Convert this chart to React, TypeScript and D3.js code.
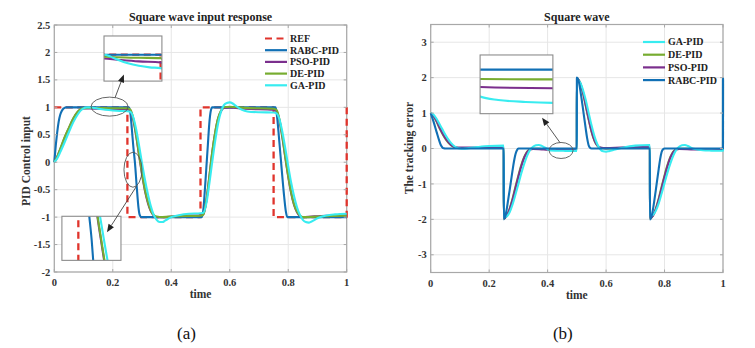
import * as d3 from "d3";

type Pt = [number, number];

// tick values
const timeTicks = [0, 0.2, 0.4, 0.6, 0.8, 1];
const inputTicks = [-2, -1.5, -1, -0.5, 0, 0.5, 1, 1.5, 2, 2.5];
const errorTicks = [-3, -2, -1, 0, 1, 2, 3];

// (a) square wave input response
const refWave: Pt[] = [[0, 1], [0.25, 1], [0.25, -1], [0.5, -1], [0.5, 1], [0.75, 1], [0.75, -1], [1, -1], [1, 1]];

const rabcInput: Pt[] = [[0, 0], [0.005, 0.3], [0.01, 0.55], [0.015, 0.74], [0.02, 0.86], [0.025, 0.93], [0.03, 0.97], [0.035, 0.99], [0.04, 1], [0.255, 1], [0.26, 0.9], [0.265, 0.62], [0.27, 0.3], [0.276, -0.02], [0.282, -0.45], [0.288, -0.83], [0.292, -0.96], [0.297, -1], [0.505, -1], [0.51, -0.85], [0.515, -0.5], [0.52, -0.1], [0.525, 0.3], [0.53, 0.7], [0.535, 0.93], [0.54, 1], [0.757, 1], [0.762, 0.82], [0.77, 0.35], [0.778, -0.15], [0.786, -0.62], [0.792, -0.9], [0.797, -1], [1, -1]];

const psoInput: Pt[] = [[0, 0], [0.01, 0.1], [0.02, 0.23], [0.035, 0.44], [0.05, 0.62], [0.065, 0.79], [0.08, 0.915], [0.09, 0.96], [0.1, 0.978], [0.12, 0.98], [0.15, 0.974], [0.2, 0.965], [0.25, 0.96], [0.26, 0.94], [0.27, 0.78], [0.28, 0.48], [0.29, 0.12], [0.3, -0.22], [0.31, -0.52], [0.32, -0.74], [0.33, -0.89], [0.34, -0.97], [0.35, -1.0], [0.37, -1.0], [0.42, -0.98], [0.5, -0.965], [0.51, -0.945], [0.52, -0.7], [0.53, -0.28], [0.54, 0.17], [0.55, 0.53], [0.56, 0.79], [0.57, 0.93], [0.58, 0.99], [0.6, 1.0], [0.65, 0.975], [0.75, 0.955], [0.76, 0.935], [0.77, 0.76], [0.78, 0.45], [0.79, 0.09], [0.8, -0.26], [0.81, -0.56], [0.82, -0.78], [0.83, -0.91], [0.84, -0.98], [0.85, -1.0], [0.88, -0.99], [0.93, -0.975], [1, -0.965]];

const deInput: Pt[] = [[0, 0], [0.01, 0.1], [0.02, 0.24], [0.035, 0.45], [0.05, 0.63], [0.065, 0.8], [0.08, 0.92], [0.09, 0.965], [0.1, 0.985], [0.12, 0.99], [0.15, 0.987], [0.2, 0.984], [0.25, 0.982], [0.26, 0.96], [0.27, 0.8], [0.28, 0.5], [0.29, 0.14], [0.3, -0.2], [0.31, -0.5], [0.32, -0.72], [0.33, -0.88], [0.34, -0.96], [0.35, -0.99], [0.37, -1.0], [0.42, -0.985], [0.5, -0.975], [0.51, -0.95], [0.52, -0.7], [0.53, -0.27], [0.54, 0.18], [0.55, 0.54], [0.56, 0.8], [0.57, 0.94], [0.58, 1.0], [0.6, 1.01], [0.65, 0.99], [0.75, 0.975], [0.76, 0.95], [0.77, 0.78], [0.78, 0.47], [0.79, 0.1], [0.8, -0.25], [0.81, -0.55], [0.82, -0.77], [0.83, -0.9], [0.84, -0.97], [0.85, -1.0], [0.87, -1.0], [0.92, -0.985], [1, -0.975]];

const gaInput: Pt[] = [[0, 0], [0.01, 0.07], [0.02, 0.18], [0.035, 0.36], [0.05, 0.55], [0.065, 0.73], [0.08, 0.87], [0.09, 0.94], [0.1, 0.98], [0.11, 0.997], [0.12, 1.0], [0.135, 0.99], [0.15, 0.975], [0.175, 0.955], [0.2, 0.942], [0.225, 0.934], [0.25, 0.93], [0.26, 0.92], [0.27, 0.82], [0.28, 0.6], [0.29, 0.3], [0.3, -0.02], [0.31, -0.32], [0.32, -0.58], [0.33, -0.8], [0.34, -0.96], [0.35, -1.05], [0.36, -1.09], [0.37, -1.09], [0.38, -1.06], [0.4, -1.0], [0.43, -0.96], [0.46, -0.94], [0.5, -0.93], [0.51, -0.92], [0.52, -0.75], [0.53, -0.4], [0.54, 0.0], [0.55, 0.38], [0.56, 0.7], [0.57, 0.92], [0.58, 1.04], [0.59, 1.08], [0.6, 1.09], [0.61, 1.07], [0.62, 1.03], [0.64, 0.96], [0.66, 0.925], [0.7, 0.91], [0.75, 0.905], [0.76, 0.89], [0.77, 0.78], [0.78, 0.55], [0.79, 0.25], [0.8, -0.07], [0.81, -0.37], [0.82, -0.62], [0.83, -0.82], [0.84, -0.96], [0.85, -1.05], [0.86, -1.09], [0.87, -1.1], [0.88, -1.08], [0.9, -1.02], [0.93, -0.97], [0.96, -0.95], [1, -0.94]];

// (b) tracking error
const rabcError: Pt[] = [[0, 1], [0.01, 0.75], [0.02, 0.47], [0.03, 0.2], [0.035, 0.09], [0.04, 0.03], [0.045, 0.005], [0.05, 0], [0.2499, 0], [0.2501, -2], [0.255, -1.92], [0.26, -1.72], [0.265, -1.45], [0.27, -1.18], [0.275, -0.9], [0.28, -0.62], [0.285, -0.36], [0.29, -0.16], [0.295, -0.05], [0.3, 0], [0.4999, 0], [0.5001, 2], [0.505, 1.94], [0.51, 1.74], [0.515, 1.47], [0.52, 1.18], [0.525, 0.88], [0.53, 0.58], [0.535, 0.3], [0.54, 0.1], [0.545, 0.02], [0.55, 0], [0.7499, 0], [0.7501, -2], [0.755, -1.93], [0.76, -1.74], [0.765, -1.47], [0.77, -1.18], [0.775, -0.88], [0.78, -0.58], [0.785, -0.3], [0.79, -0.1], [0.795, -0.02], [0.8, 0], [0.9999, 0], [1, 2]];

const psoError: Pt[] = [[0, 1], [0.01, 0.92], [0.02, 0.78], [0.03, 0.6], [0.04, 0.44], [0.05, 0.3], [0.06, 0.19], [0.07, 0.1], [0.08, 0.05], [0.09, 0.03], [0.1, 0.025], [0.15, 0.03], [0.2, 0.04], [0.2499, 0.045], [0.2501, -1.97], [0.26, -1.9], [0.27, -1.72], [0.28, -1.45], [0.29, -1.12], [0.3, -0.8], [0.31, -0.5], [0.32, -0.26], [0.33, -0.1], [0.34, -0.03], [0.35, -0.012], [0.38, -0.025], [0.4, -0.035], [0.4999, -0.038], [0.5001, 1.97], [0.51, 1.88], [0.52, 1.62], [0.53, 1.25], [0.54, 0.86], [0.55, 0.5], [0.56, 0.24], [0.57, 0.09], [0.58, 0.03], [0.6, 0.01], [0.65, 0.03], [0.7, 0.045], [0.7499, 0.05], [0.7501, -1.96], [0.76, -1.9], [0.77, -1.72], [0.78, -1.45], [0.79, -1.12], [0.8, -0.8], [0.81, -0.5], [0.82, -0.26], [0.83, -0.1], [0.84, -0.03], [0.85, -0.012], [0.9, -0.03], [0.9999, -0.038], [1, 1.96]];

const deError: Pt[] = [[0, 1], [0.01, 0.91], [0.02, 0.76], [0.03, 0.58], [0.04, 0.42], [0.05, 0.28], [0.06, 0.17], [0.07, 0.09], [0.08, 0.04], [0.09, 0.02], [0.1, 0.015], [0.15, 0.015], [0.2, 0.02], [0.2499, 0.02], [0.2501, -1.98], [0.26, -1.9], [0.27, -1.7], [0.28, -1.42], [0.29, -1.08], [0.3, -0.76], [0.31, -0.47], [0.32, -0.24], [0.33, -0.09], [0.34, -0.02], [0.35, -0.005], [0.38, -0.015], [0.4, -0.019], [0.4999, -0.02], [0.5001, 1.98], [0.51, 1.87], [0.52, 1.6], [0.53, 1.22], [0.54, 0.83], [0.55, 0.48], [0.56, 0.22], [0.57, 0.08], [0.58, 0.02], [0.6, 0.0], [0.65, 0.015], [0.7499, 0.025], [0.7501, -1.98], [0.76, -1.9], [0.77, -1.7], [0.78, -1.42], [0.79, -1.08], [0.8, -0.76], [0.81, -0.47], [0.82, -0.24], [0.83, -0.09], [0.84, -0.02], [0.85, -0.005], [0.9, -0.015], [0.9999, -0.02], [1, 1.98]];

const gaError: Pt[] = [[0, 1], [0.01, 0.95], [0.02, 0.84], [0.03, 0.69], [0.04, 0.54], [0.05, 0.39], [0.06, 0.26], [0.07, 0.15], [0.08, 0.07], [0.09, 0.02], [0.1, 0.0], [0.11, -0.005], [0.13, 0.01], [0.16, 0.04], [0.2, 0.07], [0.2499, 0.08], [0.2501, -1.94], [0.26, -1.92], [0.27, -1.8], [0.28, -1.58], [0.29, -1.3], [0.3, -1.0], [0.31, -0.7], [0.32, -0.43], [0.33, -0.2], [0.34, -0.04], [0.35, 0.05], [0.36, 0.09], [0.37, 0.1], [0.38, 0.075], [0.39, 0.03], [0.4, -0.02], [0.41, -0.055], [0.43, -0.062], [0.46, -0.066], [0.4999, -0.068], [0.5001, 1.93], [0.51, 1.88], [0.52, 1.68], [0.53, 1.38], [0.54, 1.02], [0.55, 0.66], [0.56, 0.35], [0.57, 0.12], [0.58, -0.02], [0.59, -0.08], [0.6, -0.09], [0.61, -0.075], [0.63, -0.03], [0.66, 0.03], [0.7, 0.08], [0.7499, 0.1], [0.7501, -1.9], [0.76, -1.88], [0.77, -1.76], [0.78, -1.55], [0.79, -1.27], [0.8, -0.97], [0.81, -0.68], [0.82, -0.42], [0.83, -0.2], [0.84, -0.04], [0.85, 0.05], [0.86, 0.09], [0.87, 0.1], [0.88, 0.07], [0.9, -0.01], [0.93, -0.05], [0.96, -0.06], [0.9999, -0.065], [1, 1.93]];

const FONT = "'Liberation Serif','Times New Roman',serif";
const GRID = "#e6e6e6";
const BOX = "#a8a8a8";
const col = { ref: "#e0342c", rabc: "#1170b5", pso: "#7b2f8d", de: "#77ac30", ga: "#38ecf0" };

type Series = { name: string; color: string; data: Pt[]; dash?: string; linear?: boolean };
type Scale = d3.ScaleLinear<number, number>;

const leftSeries: Series[] = [
  { name: "REF", color: col.ref, data: refWave, dash: "7 4.5", linear: true },
  { name: "RABC-PID", color: col.rabc, data: rabcInput },
  { name: "PSO-PID", color: col.pso, data: psoInput },
  { name: "DE-PID", color: col.de, data: deInput },
  { name: "GA-PID", color: col.ga, data: gaInput },
];

const rightSeries: Series[] = [
  { name: "GA-PID", color: col.ga, data: gaError },
  { name: "DE-PID", color: col.de, data: deError },
  { name: "PSO-PID", color: col.pso, data: psoError },
  { name: "RABC-PID", color: col.rabc, data: rabcError },
];
// draw order for (b): RABC on top
const rightDraw = [rightSeries[1], rightSeries[2], rightSeries[0], rightSeries[3]];

function path(s: Series, x: Scale, y: Scale) {
  const gen = d3
    .line<Pt>()
    .x((d) => x(d[0]))
    .y((d) => y(d[1]))
    .curve(s.linear ? d3.curveLinear : d3.curveMonotoneX);
  return gen(s.data) || "";
}

function Lines({ series, x, y, clip }: { series: Series[]; x: Scale; y: Scale; clip?: string }) {
  return (
    <g clipPath={clip ? `url(#${clip})` : undefined}>
      {series.map((s) => (
        <path key={s.name} d={path(s, x, y)} fill="none" stroke={s.color} strokeWidth={s.dash ? 2.3 : 2.1} strokeDasharray={s.dash} strokeLinejoin="round" />
      ))}
    </g>
  );
}

function Inset({ id, x, y, box, zx, zy, series }: { id: string; x: Scale; y: Scale; box: number[]; zx: number[]; zy: number[]; series: Series[] }) {
  const [t0, t1, v0, v1] = box;
  const rx0 = x(t0), rx1 = x(t1), ry0 = y(v1), ry1 = y(v0);
  const ix = d3.scaleLinear().domain(zx).range([rx0, rx1]);
  const iy = d3.scaleLinear().domain(zy).range([ry1, ry0]);
  return (
    <g>
      <clipPath id={id}>
        <rect x={rx0} y={ry0} width={rx1 - rx0} height={ry1 - ry0} />
      </clipPath>
      <rect x={rx0} y={ry0} width={rx1 - rx0} height={ry1 - ry0} fill="#fff" />
      <Lines series={series} x={ix} y={iy} clip={id} />
      <rect x={rx0} y={ry0} width={rx1 - rx0} height={ry1 - ry0} fill="none" stroke="#8c8c8c" strokeWidth={1.1} />
    </g>
  );
}

function Callout({ x, y, c, rx, ry, from, to }: { x: Scale; y: Scale; c: Pt; rx: number; ry: number; from: Pt; to: Pt }) {
  const x1 = x(from[0]), y1 = y(from[1]), x2 = x(to[0]), y2 = y(to[1]);
  const a = Math.atan2(y2 - y1, x2 - x1);
  const L = 8, W = 3.2;
  const bx = x2 - L * Math.cos(a), by = y2 - L * Math.sin(a);
  const head = `${x2},${y2} ${bx + W * Math.sin(a)},${by - W * Math.cos(a)} ${bx - W * Math.sin(a)},${by + W * Math.cos(a)}`;
  return (
    <g>
      <ellipse cx={x(c[0])} cy={y(c[1])} rx={rx} ry={ry} fill="none" stroke="#555" strokeWidth={0.9} />
      <line x1={x1} y1={y1} x2={bx} y2={by} stroke="#444" strokeWidth={0.9} />
      <polygon points={head} fill="#222" />
    </g>
  );
}

function Frame({ x, y, yTicks, title, ylabel, tag, children, legend, legendPos, label }: any) {
  const [x0, x1] = x.range();
  const [yb, yt] = y.range();
  const fmt = (v: number) => String(v);
  return (
    <g fontFamily={FONT}>
      {timeTicks.map((t) => (
        <line key={"gx" + t} x1={x(t)} x2={x(t)} y1={yt} y2={yb} stroke={GRID} />
      ))}
      {yTicks.map((v: number) => (
        <line key={"gy" + v} x1={x0} x2={x1} y1={y(v)} y2={y(v)} stroke={GRID} />
      ))}
      <rect x={x0} y={yt} width={x1 - x0} height={yb - yt} fill="none" stroke={BOX} strokeWidth={1.2} />
      {children}
      {timeTicks.map((t) => (
        <g key={"tx" + t}>
          <line x1={x(t)} x2={x(t)} y1={yb} y2={yb - 3} stroke={BOX} />
          <line x1={x(t)} x2={x(t)} y1={yt} y2={yt + 3} stroke={BOX} />
          <text x={x(t)} y={yb + 14} textAnchor="middle" fontSize={10.5} fontWeight="bold" fill="#333">{fmt(t)}</text>
        </g>
      ))}
      {yTicks.map((v: number) => (
        <g key={"ty" + v}>
          <line x1={x0} x2={x0 + 3} y1={y(v)} y2={y(v)} stroke={BOX} />
          <line x1={x1} x2={x1 - 3} y1={y(v)} y2={y(v)} stroke={BOX} />
          <text x={x0 - 4} y={y(v) + 3.6} textAnchor="end" fontSize={10.5} fontWeight="bold" fill="#333">{fmt(v)}</text>
        </g>
      ))}
      <text x={(x0 + x1) / 2} y={yt - 4} textAnchor="middle" fontSize={12} fontWeight="bold" fill="#222">{title}</text>
      <text x={(x0 + x1) / 2} y={yb + 26} textAnchor="middle" fontSize={11.5} fontWeight="bold" fill="#333">time</text>
      <text transform={`translate(${label[0]},${label[1]}) rotate(-90)`} textAnchor="middle" fontSize={11.5} fontWeight="bold" fill="#333">{ylabel}</text>
      <text x={(x0 + x1) / 2 - 14} y={339} textAnchor="middle" fontSize={17} fill="#111">{tag}</text>
      <g transform={`translate(${legendPos[0]},${legendPos[1]})`}>
        {legend.map((s: Series, i: number) => (
          <g key={s.name} transform={`translate(0,${i * legendPos[2]})`}>
            <line x1={0} x2={22} y1={0} y2={0} stroke={s.color} strokeWidth={2.2} strokeDasharray={s.dash} />
            <text x={25} y={3.4} fontSize={10} fontWeight="bold" fill="#222">{s.name}</text>
          </g>
        ))}
      </g>
    </g>
  );
}

export default function App() {
  const xa = d3.scaleLinear().domain([0, 1]).range([54.3, 346.7]);
  const ya = d3.scaleLinear().domain([-2, 2.5]).range([272, 25]);
  const xb = d3.scaleLinear().domain([0, 1]).range([430.7, 723]);
  const yb = d3.scaleLinear().domain([-3.5, 3.5]).range([272.5, 24.5]);

  return (
    <svg width={755} height={348} style={{ position: "absolute", left: 0, top: 0, background: "#fff" }}>
      <Frame x={xa} y={ya} yTicks={inputTicks} title="Square wave input response" ylabel="PID Control input" tag="(a)" legend={leftSeries} legendPos={[265, 38.5, 11.7]} label={[30, 161]}>
        <Lines series={leftSeries} x={xa} y={ya} />
        <Inset id="insA1" x={xa} y={ya} box={[0.17, 0.368, 1.478, 2.3]} zx={[0.12, 0.253]} zy={[0.862, 1.098]} series={leftSeries} />
        <Inset id="insA2" x={xa} y={ya} box={[0.026, 0.228, -1.788, -0.985]} zx={[0.218, 0.333]} zy={[-0.228, 0.228]} series={leftSeries} />
        <Callout x={xa} y={ya} c={[0.189, 1.013]} rx={18.5} ry={9.5} from={[0.208, 1.18]} to={[0.238, 1.6]} />
        <Callout x={xa} y={ya} c={[0.269, -0.137]} rx={9} ry={17.5} from={[0.281, -0.44]} to={[0.18, -1.277]} />
      </Frame>
      <Frame x={xb} y={yb} yTicks={errorTicks} title="Square wave" ylabel="The tracking error" tag="(b)" legend={rightSeries} legendPos={[643, 42, 12.7]} label={[413, 148]}>
        <Lines series={rightDraw} x={xb} y={yb} />
        <Inset id="insB1" x={xb} y={yb} box={[0.169, 0.418, 0.983, 2.64]} zx={[0.41, 0.49]} zy={[-0.09, 0.03]} series={rightDraw} />
        <Callout x={xb} y={yb} c={[0.446, -0.056]} rx={12} ry={8} from={[0.442, 0.17]} to={[0.381, 0.87]} />
      </Frame>
    </svg>
  );
}
